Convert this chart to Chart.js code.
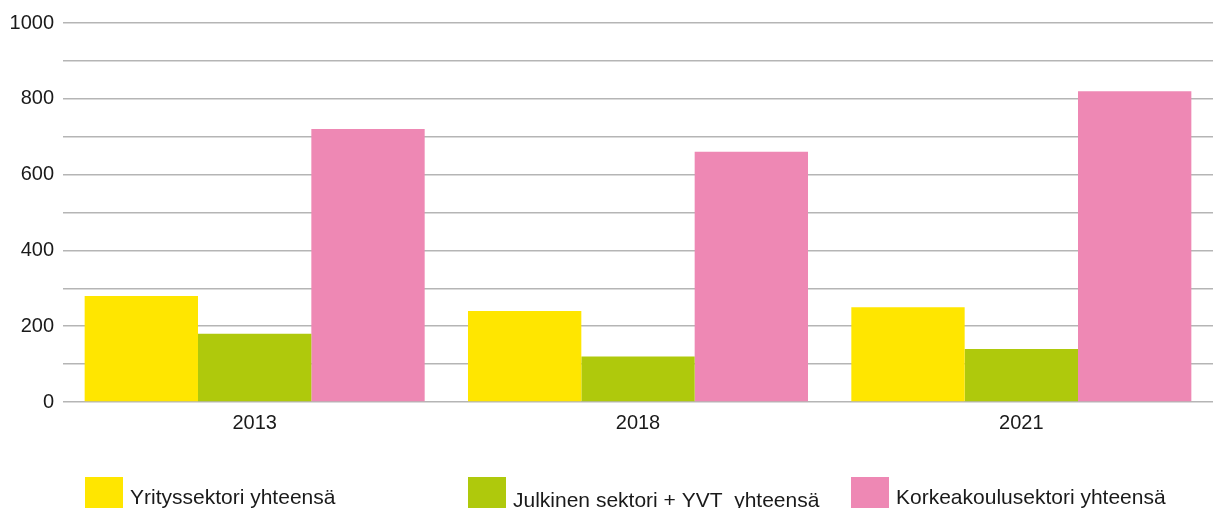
<!DOCTYPE html>
<html lang="fi">
<head>
  <meta charset="UTF-8" />
  <title>Sektorit</title>
  <script src="https://cdn.jsdelivr.net/npm/chart.js"></script>
  <style>
    * { margin: 0; padding: 0; box-sizing: border-box; }
    body { background: #fff; width: 1218px; height: 508px; overflow: hidden; }
    .wrap { width: 1218px; height: 508px; position: relative; }
  </style>
</head>
<body>
  <div class="wrap"><canvas id="chart"></canvas></div>

  <script>
    const years = ['2013', '2018', '2021'];
    const yritys = [280, 240, 250];
    const julkinen = [180, 120, 140];
    const korkeakoulu = [720, 660, 820];
    const seriesNames = ['Yrityssektori yhteensä', 'Julkinen sektori + YVT  yhteensä', 'Korkeakoulusektori yhteensä'];
    const seriesColors = ['#ffe600', '#afc90c', '#ee88b4'];
    const yTicks = [0, 200, 400, 600, 800, 1000];

    const font = 'Liberation Sans, Arial, sans-serif';

    // legend: one item under each year group, starting at the group's first bar
    const groupLegend = {
      id: 'groupLegend',
      afterDraw(chart) {
        const ctx = chart.ctx;
        const meta = chart.getDatasetMeta(0);
        ctx.save();
        ctx.font = '21px ' + font;
        ctx.textBaseline = 'alphabetic';
        ctx.textAlign = 'left';
        chart.data.datasets.forEach((ds, i) => {
          const bar = meta.data[i];
          const left = Math.round(bar.x - bar.width / 2);
          ctx.fillStyle = ds.backgroundColor;
          ctx.fillRect(left, 477, 38, 31);
          ctx.fillStyle = '#1a1a1a';
          ctx.fillText(ds.label, left + 45, i === 1 ? 507 : 504);
        });
        ctx.restore();
      }
    };

    new Chart(document.getElementById('chart'), {
      type: 'bar',
      data: {
        labels: years,
        datasets: [yritys, julkinen, korkeakoulu].map((d, i) => ({
          label: seriesNames[i],
          data: d,
          backgroundColor: seriesColors[i],
          borderWidth: 0,
          categoryPercentage: 0.887,
          barPercentage: 1
        }))
      },
      options: {
        responsive: true,
        maintainAspectRatio: false,
        animation: false,
        layout: { padding: { top: 23, right: 5, left: 0, bottom: 0 } },
        plugins: {
          legend: { display: false },
          tooltip: { enabled: false }
        },
        scales: {
          x: {
            grid: { display: false, drawTicks: false },
            border: { display: false },
            ticks: { color: '#1a1a1a', font: { family: font, size: 20 }, padding: 9 },
            afterFit(scale) { scale.height = 106; }
          },
          y: {
            min: 0,
            max: 1000,
            grid: { color: '#b5b5b5', lineWidth: 1.5, drawTicks: false },
            border: { display: false },
            ticks: {
              stepSize: 100,
              color: '#1a1a1a',
              font: { family: font, size: 20 },
              padding: 9,
              callback: v => yTicks.includes(v) ? String(v) : ''
            },
            afterFit(scale) { scale.width = 63; }
          }
        }
      },
      plugins: [groupLegend]
    });
  </script>
</body>
</html>
